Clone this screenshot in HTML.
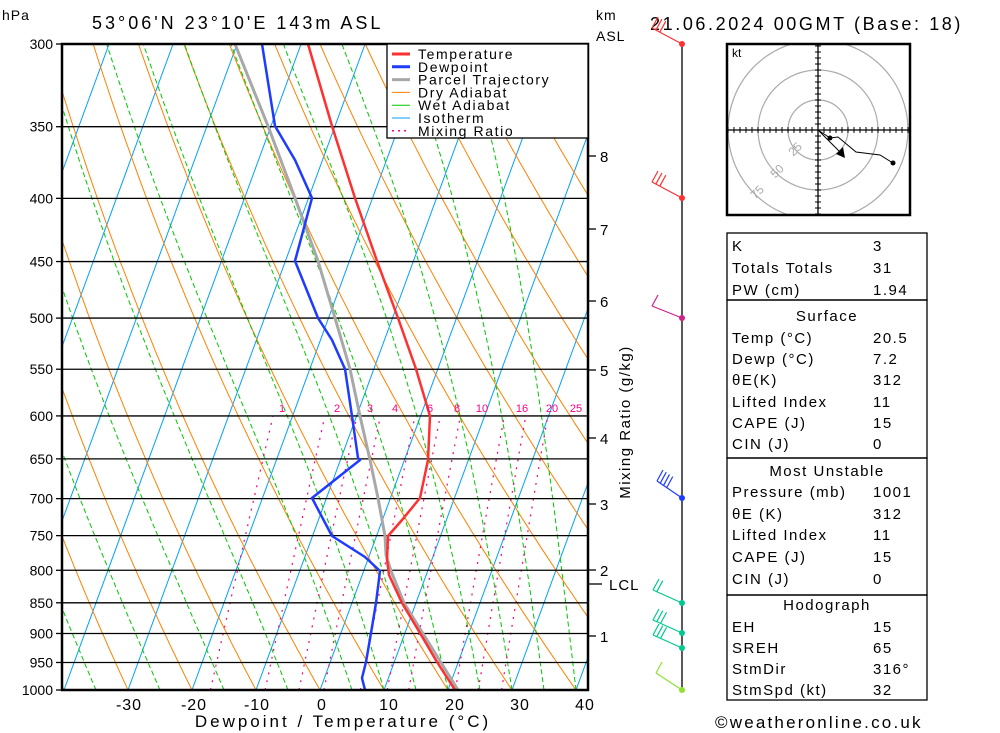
<!DOCTYPE html>
<html><head><meta charset="utf-8"><style>
body{margin:0;background:#fff;}
svg{display:block;font-family:"Liberation Sans",sans-serif;}
</style></head><body>
<svg id="s" width="1000" height="733" viewBox="0 0 1000 733" xmlns="http://www.w3.org/2000/svg">
<defs><clipPath id="c"><rect x="62" y="44" width="526" height="646"/></clipPath>
<clipPath id="h"><rect x="727" y="44" width="183" height="171"/></clipPath></defs>
<g id="bg" clip-path="url(#c)"></g>
<g id="fg"></g>
</svg>
<script>
var NS="http://www.w3.org/2000/svg";
function el(p,t,a,txt){var e=document.createElementNS(NS,t);for(var k in a)e.setAttribute(k,a[k]);if(txt!==undefined)e.textContent=txt;p.appendChild(e);return e;}
var bg=document.getElementById('bg'),fg=document.getElementById('fg'),S=document.getElementById('s');
function Y(p){return 44+Math.log(p/300)/Math.log(1000/300)*646;}
function X(T,p){return 320+6.4*T+0.367*(690-Y(p));}
function line(pts,a){el(bg,'polyline',Object.assign({points:pts.map(function(q){return q[0].toFixed(1)+','+q[1].toFixed(1)}).join(' '),fill:'none'},a));}
var ps=[];for(var p=1000;p>=295;p-=5)ps.push(p);
for(var T=-110;T<=50;T+=10){line([[X(T,1000),690],[X(T,300),44]],{stroke:'#00a0ff','stroke-width':1});}
for(var th=-40;th<=200;th+=10){var pts=[];ps.forEach(function(p){var Tk=(th+273.15)*Math.pow(p/1000,0.286)-273.15;pts.push([X(Tk,p),Y(p)]);});line(pts,{stroke:'#ff8000','stroke-width':1});}
function es(T){return 6.112*Math.exp(17.67*T/(T+243.5));}
function gam(T,p){var Tk=T+273.15,e=es(T),r=0.622*e/(p-e),L=2.5e6;var num=1+L*r/(287*Tk),den=1+L*L*r*0.622/(1005*461.5*Tk*Tk);return 0.286*Tk/p*num/den;}
[-35,-25,-15,-5,5,10,15,20,25,30,35,40].forEach(function(T0){var T=T0,pts=[[X(T,1000),690]];for(var p=1000;p>300;p-=5){T-=gam(T,p)*5;pts.push([X(T,p-5),Y(p-5)]);}line(pts,{stroke:'#00c800','stroke-width':1,'stroke-dasharray':'5,3'});});
[1,2,3,4,6,8,10,16,20,25].forEach(function(w){var pts=[];for(var p=1000;p>=600;p-=10){var e=w*p/(622+w),l=Math.log(e/6.112),Td=243.5*l/(17.67-l);pts.push([X(Td,p),Y(p)]);}line(pts,{stroke:'#ff0080','stroke-width':1.2,'stroke-dasharray':'2,6'});});
[300,350,400,450,500,550,600,650,700,750,800,850,900,950,1000].forEach(function(p){var y=Y(p);el(fg,'line',{x1:62,x2:588,y1:y,y2:y,stroke:'#000','stroke-width':1.3});el(fg,'line',{x1:56,x2:62,y1:y,y2:y,stroke:'#000','stroke-width':1.3});el(fg,'text',{x:53,y:y+5,'text-anchor':'end','font-size':14},p);});
function pl(pts,c,w){el(fg,'polyline',{points:pts.map(function(q){return q.join(',')}).join(' '),fill:'none',stroke:c,'stroke-width':w,'stroke-linejoin':'round'});}
pl([[458,690],[404,603],[391,571],[386,555],[385,536],[378,498],[370,460],[360,416],[350,369],[335,318],[318,261],[295,198],[268,126],[235,44]],'#a8a8a8',3);
pl([[455,690],[437,662],[420,633],[402,603],[389,575],[387,560],[388,536],[402,520],[420,498],[428,460],[430,416],[416,369],[398,318],[377,261],[355,198],[332,126],[308,44]],'#ff3030',2.5);
pl([[365,690],[362,678],[366,662],[371,633],[376,603],[380,571],[365,557],[332,536],[312,498],[360,460],[358,458],[352,416],[345,369],[332,340],[318,318],[295,261],[312,198],[295,160],[275,126],[262,44]],'#1e3cff',2.5);
el(fg,'rect',{x:62,y:44,width:526,height:646,fill:'none',stroke:'#000','stroke-width':2.5});
[[1,282],[2,337],[3,370],[4,395],[6,430],[8,457],[10,482],[16,522],[20,552],[25,576]].forEach(function(a){el(fg,'text',{x:a[1],y:412,'text-anchor':'middle','font-size':11,fill:'#ff0080'},a[0]);});
[[-30,129],[-20,194],[-10,257],[0,322],[10,389],[20,455],[30,520],[40,585]].forEach(function(a){el(fg,'text',{x:a[1],y:710,'text-anchor':'middle','font-size':16,'letter-spacing':'1'},a[0]);});
el(fg,'text',{x:343,y:727,'text-anchor':'middle','font-size':17,'letter-spacing':'3'},'Dewpoint / Temperature (°C)');
el(fg,'text',{x:2,y:20,'font-size':14,'letter-spacing':'1'},'hPa');
el(fg,'text',{x:92,y:29,'font-size':18,'letter-spacing':'3'},'53°06\'N  23°10\'E  143m  ASL');
el(fg,'text',{x:596,y:20,'font-size':14,'letter-spacing':'1'},'km');
el(fg,'text',{x:596,y:41,'font-size':14,'letter-spacing':'1'},'ASL');
el(fg,'text',{x:650,y:30,'font-size':18,'letter-spacing':'2.6'},'21.06.2024  00GMT  (Base: 18)');
[[8,156],[7,229],[6,301],[5,370],[4,438],[3,504],[2,570],[1,636]].forEach(function(a){el(fg,'line',{x1:588,x2:596,y1:a[1],y2:a[1],stroke:'#000','stroke-width':1.3});el(fg,'text',{x:600,y:a[1]+6,'font-size':15},a[0]);});
el(fg,'line',{x1:588,x2:602,y1:584,y2:584,stroke:'#000','stroke-width':1.3});
el(fg,'text',{x:609,y:590,'font-size':15,'letter-spacing':'1'},'LCL');
el(fg,'text',{x:0,y:0,'font-size':15,'letter-spacing':'1.5',transform:'translate(630,422) rotate(-90)','text-anchor':'middle'},'Mixing Ratio (g/kg)');
el(fg,'rect',{x:387,y:44,width:201,height:94,fill:'#fff',stroke:'#000','stroke-width':1.3});
[['Temperature','#ff3030',3,''],['Dewpoint','#1e3cff',3,''],['Parcel Trajectory','#a8a8a8',3,''],['Dry Adiabat','#ff8000',1,''],['Wet Adiabat','#00c800',1,''],['Isotherm','#00a0ff',1,''],['Mixing Ratio','#ff0080',1.5,'2,4']].forEach(function(a,i){var y=54+i*12.8;el(fg,'line',{x1:392,x2:410,y1:y,y2:y,stroke:a[1],'stroke-width':a[2],'stroke-dasharray':a[3]||'none'});el(fg,'text',{x:418,y:y+5,'font-size':14,'letter-spacing':'1.6'},a[0]);});
el(fg,'line',{x1:682,x2:682,y1:44,y2:690,stroke:'#000','stroke-width':1.3});
function barb(y,c,dx,dy,n){var x0=682,x1=682+dx,y1=y+dy;el(fg,'line',{x1:x0,y1:y,x2:x1,y2:y1,stroke:c,'stroke-width':1.2});for(var i=0;i<n;i++){var t=i*0.13;var bx=x1+(x0-x1)*t,by=y1+(y-y1)*t;el(fg,'line',{x1:bx,y1:by,x2:bx+6,y2:by-11,stroke:c,'stroke-width':1.2});}el(fg,'circle',{cx:682,cy:y,r:3,fill:c});}
barb(44,'#ff3030',-30,-16,3);barb(198,'#ff3030',-30,-16,3);barb(318,'#d0208a',-30,-12,1);barb(498,'#1e3cff',-25,-17,4);
barb(603,'#00c890',-29,-13,2);barb(633,'#00c890',-29,-13,3);barb(648,'#00c890',-29,-13,3);barb(690,'#90e030',-26,-17,1);
var cx=818,cy=130;
var hg=el(fg,'g',{'clip-path':'url(#h)'});
[30,60,90].forEach(function(r){el(hg,'circle',{cx:cx,cy:cy,r:r,fill:'none',stroke:'#aaa','stroke-width':1.2});});
el(fg,'rect',{x:727,y:44,width:183,height:171,fill:'none',stroke:'#000','stroke-width':2.5});
el(fg,'line',{x1:727,x2:910,y1:cy,y2:cy,stroke:'#000','stroke-width':1.3});
el(fg,'line',{x1:cx,x2:cx,y1:44,y2:215,stroke:'#000','stroke-width':1.3});
for(var d=-90;d<=90;d+=6){el(hg,'line',{x1:cx+d,x2:cx+d,y1:cy-3,y2:cy+3,stroke:'#000'});el(hg,'line',{x1:cx-3,x2:cx+3,y1:cy+d,y2:cy+d,stroke:'#000'});}
el(fg,'text',{x:732,y:57,'font-size':12},'kt');
[[25,798,152],[50,780,174],[75,760,195]].forEach(function(a){el(fg,'text',{x:0,y:0,'font-size':12,fill:'#aaa',transform:'translate('+a[1]+','+a[2]+') rotate(-45)','text-anchor':'middle'},a[0]);});
el(fg,'polyline',{points:'818,130 830,138 838,137 856,152 880,155 893,163',fill:'none',stroke:'#000','stroke-width':1});
el(fg,'circle',{cx:830,cy:138,r:2.5});el(fg,'circle',{cx:893,cy:163,r:2.5});
el(fg,'line',{x1:818,y1:130,x2:840,y2:152,stroke:'#000'});
el(fg,'polygon',{points:'845,158 836,154 843,147'});
var boxes=[[233,300],[300,458],[458,595],[595,700]];
boxes.forEach(function(b){el(fg,'rect',{x:727,y:b[0],width:200,height:b[1]-b[0],fill:'none',stroke:'#000','stroke-width':1.3});});
var rows=[['K','3',251],['Totals Totals','31',273],['PW (cm)','1.94',295],['*Surface','',321],['Temp (°C)','20.5',343],['Dewp (°C)','7.2',364],['θE(K)','312',385],['Lifted Index','11',407],['CAPE (J)','15',428],['CIN (J)','0',449],['*Most Unstable','',476],['Pressure (mb)','1001',497],['θE (K)','312',519],['Lifted Index','11',540],['CAPE (J)','15',562],['CIN (J)','0',584],['*Hodograph','',610],['EH','15',632],['SREH','65',653],['StmDir','316°',674],['StmSpd (kt)','32',695]];
rows.forEach(function(r){if(r[0][0]=='*')el(fg,'text',{x:827,y:r[2],'text-anchor':'middle','font-size':15,'letter-spacing':'1.5'},r[0].slice(1));else{el(fg,'text',{x:732,y:r[2],'font-size':15,'letter-spacing':'1.5'},r[0]);el(fg,'text',{x:873,y:r[2],'font-size':15,'letter-spacing':'1.5'},r[1]);}});
el(fg,'text',{x:715,y:728,'font-size':17,'letter-spacing':'2.2'},'©weatheronline.co.uk');
</script>
</body></html>
